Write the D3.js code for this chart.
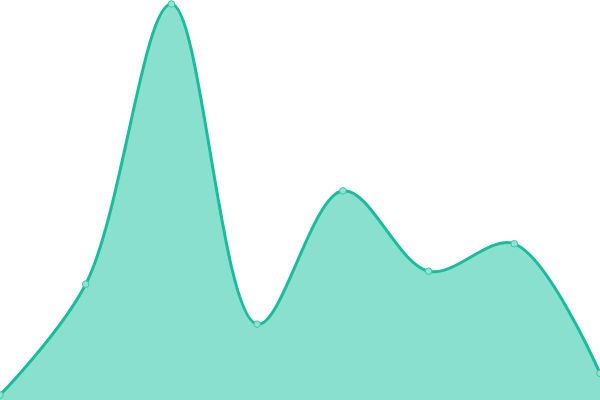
<!DOCTYPE html>
<html>
<head>
<meta charset="utf-8">
<script src="https://cdn.jsdelivr.net/npm/d3@7"></script>
<style>
  html, body { margin: 0; padding: 0; background: #fff; }
  svg { display: block; }
</style>
</head>
<body>
<div id="chart"></div>
<script>
// chart values
const labels = ["1", "2", "3", "4", "5", "6", "7", "8"];
const values = [10, 35.5, 100, 26.3, 57, 38.5, 44.8, 15];

const width = 600, height = 400;
const lineColor = "#1abc9c";
const fillColor = "#8ae0cf";

const svg = d3.select("#chart")
    .append("svg")
    .attr("width", width)
    .attr("height", height);

// x spans the full width, y leaves room for the point markers
const x = d3.scalePoint()
    .domain(labels)
    .range([0, width]);

const y = d3.scaleLinear()
    .domain([d3.min(values), d3.max(values)])
    .range([395, 4]);

const curve = d3.curveCatmullRom.alpha(0.5);

const area = d3.area()
    .x((d, i) => x(labels[i]))
    .y0(height)
    .y1(d => y(d))
    .curve(curve);

const line = d3.line()
    .x((d, i) => x(labels[i]))
    .y(d => y(d))
    .curve(curve);

svg.append("path")
    .datum(values)
    .attr("d", area)
    .attr("fill", fillColor);

svg.append("path")
    .datum(values)
    .attr("d", line)
    .attr("fill", "none")
    .attr("stroke", lineColor)
    .attr("stroke-width", 3)
    .attr("stroke-linejoin", "round");

// point markers
svg.selectAll(".dot")
    .data(values)
    .enter()
    .append("circle")
    .attr("class", "dot")
    .attr("cx", (d, i) => x(labels[i]))
    .attr("cy", d => y(d))
    .attr("r", 3.3)
    .attr("fill", "#8fe3d2")
    .attr("stroke", "#3cc7a9")
    .attr("stroke-width", 1);
</script>
</body>
</html>
